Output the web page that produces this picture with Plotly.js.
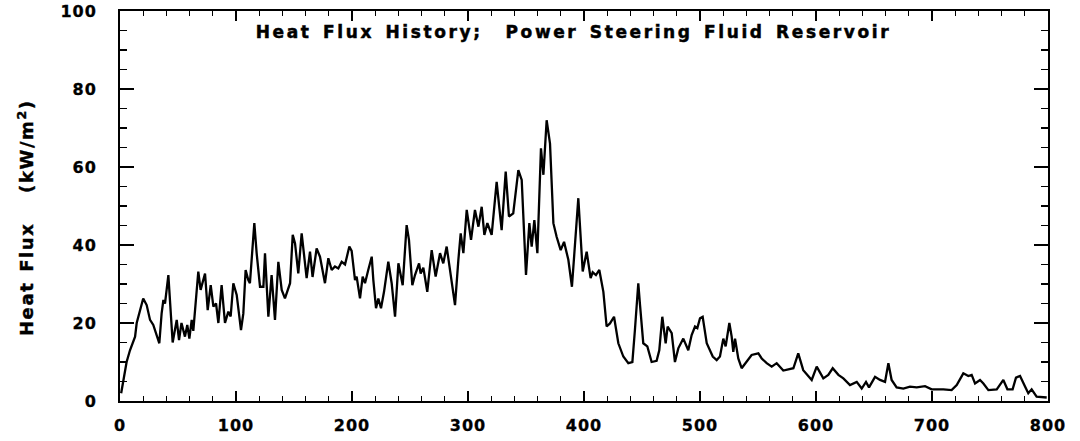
<!DOCTYPE html>
<html>
<head>
<meta charset="utf-8">
<script src="https://cdn.plot.ly/plotly-3.0.1.min.js"></script>
<style>
html,body{margin:0;padding:0;background:#fff;}
#chart{width:1080px;height:441px;}
#chart .gtitle{letter-spacing:2.6px;word-spacing:3px;stroke:#000;stroke-width:0.5px;}
#chart .annotation-text{letter-spacing:1.6px;word-spacing:2px;stroke:#000;stroke-width:0.4px;}
#chart .xtick text,#chart .ytick text{letter-spacing:1px;stroke:#000;stroke-width:0.3px;}
</style>
</head>
<body>
<div id="chart"></div>
<script>
const timeSec = [1,3,5.7,8.6,13,14.4,20,23,25.9,28.7,33.9,35.9,37.4,38.8,41.7,42.5,45.4,48.9,50.9,53,56,58,59.8,61.8,63.2,67.5,69.5,73.3,75.6,78.2,80.5,82.8,84.8,87.6,90.5,93.4,95.4,97.7,100.6,104.3,106.3,108.3,110.6,112,115.8,117.8,120.7,123.6,125,127.9,130.7,133.6,136.5,139.4,142.2,146.6,148.9,150.9,153.7,156.6,158.6,160.9,163.8,166,169.5,172.4,176.7,179.6,182.5,185.3,188.2,191.1,194,197.7,199.7,202.6,204,206.9,209.2,211.2,214,217,218.4,220.7,222.7,225,227.6,231.3,234.2,237.1,240,242,243.7,247.1,249.1,252,254.3,257.8,259.2,261.5,264.9,268.7,272.1,275.9,278.7,281.6,284.5,288.8,291.7,293.7,296,298.9,302.6,306,309,311.8,314.1,316.7,320.4,324.7,329,332.5,335.3,339,343.4,346.3,350,352.9,354.9,357.2,359.8,362.9,365,367.8,370.7,373.6,376.4,379.9,382.8,386.5,389.6,395.1,398.9,402.3,405.7,407.5,410.3,413.2,416.7,419.5,422.4,425.9,429.6,433.9,438.2,441.7,443.9,446.8,448.3,451.1,454.6,458.3,462.6,464.9,467.5,470.4,472.1,475.6,478.4,481.3,485.6,489.9,492.8,495.7,497.7,500,502.3,505.8,511,514.4,517.2,520.1,522.1,525.3,527.3,528.7,530.2,533,535.9,540.2,544.5,550.3,553.2,557.5,561.8,566.1,569,571.8,580.5,584.7,589,596.3,600.6,606.3,610.6,614.4,619.3,623.6,629.3,635.1,639.4,643.1,645.7,650.9,655.2,659.5,662.4,665.2,669.5,675.3,681,686.8,694,699.7,709.8,716.9,721.3,727,731.3,734.2,737.1,741.4,744.3,748.6,755.8,761.5,765,769.5,772.4,775.9,780.2,783,785.9,790.2,798.9];
const heatFlux = [2,5.4,10,13,16.5,20,26.3,24.6,20.8,19.5,14.8,22.5,25.9,25,32.3,28.5,15,20.8,15.6,20,16.5,19.5,16,20.8,18,33.2,28.5,32.7,23.3,29.7,24.2,25,20,29.7,20,22.9,21.7,30.2,27.2,18.2,22.4,33.6,31,30.2,45.6,37.9,29.3,29.3,37.9,21.6,32.3,20.8,35.7,28.5,26.3,30.2,42.6,40.4,32.7,43,37.4,31.5,38.3,31.8,39.1,37,30.2,36.6,33.6,34.5,34,35.7,35,39.6,38.5,31,31.9,26.3,31.9,30.2,33.6,37,31,23.8,26.3,23.8,28,35.7,30.2,21.6,35.3,32,29.7,45.1,41.3,29.7,32.3,35.3,32.7,34.2,28,38.7,31.9,37.9,35.3,39.6,33.6,24.6,36.2,43,37.9,49,41.3,49,44.7,49.8,42.6,45.6,42.6,56.2,43.8,58.8,47.3,48.1,59.2,56.7,32.3,45.6,39.6,46.4,37.9,64.8,58,72,66,45.6,42.1,38.7,40.8,36.2,29.3,52,33.2,38.3,31.5,33,32.3,33.6,28,19.1,19.9,21.6,14.8,11.4,9.7,10,18.2,30.2,24.6,14.8,14,10,10.3,13,21.6,14.8,19.1,17.4,10,13.5,16,13,16.9,19.1,18.7,21.2,21.6,14.8,11.4,10.5,11.4,16,14,20,16.5,12.6,16,10.9,8.4,10,11.8,12.2,10.9,9.7,8.8,9.7,8.8,7.8,8.4,12.2,7.9,5.4,8.8,5.8,6.7,8.4,6.7,5.8,4.1,4.9,3.2,4.9,3.5,6.2,5.4,4.9,9.7,5.4,3.5,3.2,3.7,3.5,3.8,3,3,2.8,4.1,7.1,6.4,6.7,4.5,5.4,4.5,2.8,3,5.4,3,3,6,6.4,3.7,2,3,1.1,0.9];
const chartTitle = "Heat Flux History;&nbsp; Power Steering Fluid Reservoir";
const yTitle = "Heat Flux&nbsp;&nbsp; (kW/m<sup>2</sup>)";

const FONT = "DejaVu Sans, sans-serif";
const axisCommon = {
  showgrid: false, zeroline: false, showline: true, linecolor: '#000', linewidth: 2,
  mirror: 'ticks', ticks: 'inside', tickcolor: '#000', tickwidth: 1.5,
  tickfont: {family: FONT, size: 16, color: '#000', weight: 'bold'}
};
const layout = {
  width: 1080, height: 441,
  margin: {l: 120, r: 32, t: 11, b: 40},
  paper_bgcolor: '#fff', plot_bgcolor: '#fff',
  showlegend: false,
  title: {text: chartTitle, font: {family: FONT, size: 17, color: '#000', weight: 'bold'},
          xref: 'container', yref: 'container', x: 0.531, xanchor: 'center', y: 0.928, yanchor: 'middle'},
  xaxis: Object.assign({}, axisCommon, {
    range: [0, 800], dtick: 100, tick0: 0, ticklen: 10, ticklabelstandoff: 9,
    minor: {dtick: 20, ticks: 'inside', ticklen: 5, tickcolor: '#000', tickwidth: 1.2}
  }),
  yaxis: Object.assign({}, axisCommon, {
    range: [0, 100], dtick: 20, tick0: 0, ticklen: 14, ticklabelstandoff: 18,
    minor: {dtick: 5, ticks: 'inside', ticklen: 7, tickcolor: '#000', tickwidth: 1.2}
  }),
  annotations: [{
    text: yTitle, textangle: -90, showarrow: false,
    xref: 'paper', yref: 'paper', x: -0.1015, y: 0.469, xanchor: 'center', yanchor: 'middle',
    font: {family: FONT, size: 18, color: '#000', weight: 'bold'}
  }]
};
const trace = {x: timeSec, y: heatFlux, type: 'scatter', mode: 'lines',
  line: {color: '#000', width: 2.3}, hoverinfo: 'skip'};
Plotly.newPlot('chart', [trace], layout, {staticPlot: true, displayModeBar: false});
</script>
</body>
</html>
